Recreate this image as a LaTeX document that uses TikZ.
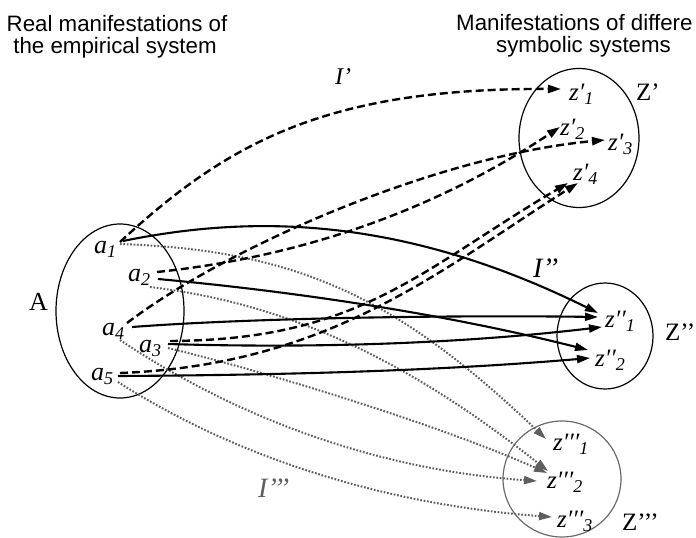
\documentclass[tikz,border=0pt]{standalone}
\usepackage{fontspec}
\setmainfont{Liberation Serif}
\newfontfamily\sansf{Liberation Sans}
\usetikzlibrary{arrows.meta,shapes.geometric}
\definecolor{dotgray}{HTML}{5E5E5E}
\definecolor{ellgray}{HTML}{6A6A6A}
\newcommand\lbl[3]{{\itshape #1#2\raisebox{-4pt}{\fontsize{18}{18}\selectfont #3}}}
\begin{document}
\begin{tikzpicture}[x=1pt,y=-1pt,
 tipA/.style={-{Triangle[length=13pt,width=8pt]}},
 iprime/.style={line width=2.4pt, dash pattern=on 8pt off 4pt, tipA},
 idouble/.style={line width=2.1pt, tipA},
 itriple/.style={line width=2pt, draw=dotgray, fill=none, dash pattern=on 1.7pt off 1.7pt, -{Triangle[length=13pt,width=8pt,fill=dotgray,color=dotgray]}},
 setell/.style={draw, ellipse, line width=1.2pt, inner sep=0pt},
 lab/.style={anchor=base west, inner sep=0pt, font=\fontsize{26}{26}\selectfont},
 zlab/.style={anchor=base west, inner sep=0pt, font=\fontsize{25}{25}\selectfont},
 setlab/.style={anchor=base west, inner sep=0pt, font=\fontsize{25}{25}\selectfont},
 ilab/.style={anchor=base west, inner sep=0pt, font=\itshape\fontsize{28}{28}\selectfont},
 title/.style={anchor=base, inner sep=0pt, font=\sansf\fontsize{22.3}{22.3}\selectfont},
]
\useasboundingbox (0,0) rectangle (696,538);
\begin{scope}
\clip (0,0) rectangle (696,538);
% titles
\node[title] (t1a) at (117,31.5) {Real manifestations of};
\node[title] (t1b) at (115,53.5) {the empirical system};
\node[title, anchor=base west] (t2a) at (456,30) {Manifestations of differe};
\node[title] (t2b) at (583.5,52) {symbolic systems};
% sets
\node[setell, minimum width=128pt, minimum height=174pt] (A) at (120,311) {};
\node[setell, minimum width=120pt, minimum height=139pt] (Zp) at (579,138) {};
\node[setell, minimum width=96pt, minimum height=106pt] (Zpp) at (605,336) {};
\node[setell, draw=ellgray, minimum width=118pt, minimum height=116pt] (Zppp) at (562,479) {};
% element labels
\node[lab] (la1) at (94,253) {\lbl{a}{}{1}};
\node[lab] (la2) at (128,281) {\lbl{a}{}{2}};
\node[lab] (la4) at (102,335) {\lbl{a}{}{4}};
\node[lab] (la3) at (139,352) {\lbl{a}{}{3}};
\node[lab] (la5) at (91,380) {\lbl{a}{}{5}};
\node[zlab] (zp1) at (569,100) {\lbl{z}{′}{1}};
\node[zlab] (zp2) at (560,135) {\lbl{z}{′}{2}};
\node[zlab] (zp3) at (608,150) {\lbl{z}{′}{3}};
\node[zlab] (zp4) at (573,180) {\lbl{z}{′}{4}};
\node[zlab] (zpp1) at (605,327) {\lbl{z}{′′}{1}};
\node[zlab] (zpp2) at (595,366) {\lbl{z}{′′}{2}};
\node[zlab] (zppp1) at (553,450) {\lbl{z}{′′′}{1}};
\node[zlab] (zppp2) at (547,488) {\lbl{z}{′′′}{2}};
\node[zlab] (zppp3) at (557,527) {\lbl{z}{′′′}{3}};
% set labels
\node[lab] (lA) at (29,310) {A};
\node[setlab] (lZp) at (636,100) {Z’};
\node[setlab] (lZpp) at (665,340) {Z’’};
\node[setlab] (lZppp) at (622,530) {Z’’’};
% mapping labels
\node[ilab, font=\itshape\fontsize{24}{24}\selectfont] (I1) at (335,84) {I’};
\node[ilab] (I2) at (533,277) {I’’};
\node[ilab, text=dotgray] (I3) at (258,497) {I’’’};
% start points
\coordinate (a1d) at (120,242); \coordinate (a1s) at (123,241); \coordinate (a1t) at (120,244);
\coordinate (a2d) at (157,272); \coordinate (a2s) at (158,279); \coordinate (a2t) at (150,287);
\coordinate (a4d) at (127,323); \coordinate (a4s) at (132,327); \coordinate (a4t) at (120,340);
\coordinate (a3d) at (170,341); \coordinate (a3s) at (168,344); \coordinate (a3t) at (168,348);
\coordinate (a5d) at (120,373); \coordinate (a5s) at (118,376); \coordinate (a5t) at (118,382);
% end points
\coordinate (e1) at (561,89); \coordinate (e2) at (560,127); \coordinate (e3) at (605,140);
\coordinate (e4a) at (568,183); \coordinate (e4b) at (578,183);
\coordinate (f1a) at (598,313); \coordinate (f1b) at (598,317); \coordinate (f1c) at (602,327);
\coordinate (f2a) at (588,350); \coordinate (f2b) at (590,358);
\coordinate (g1) at (546,439); \coordinate (g2a) at (548,471); \coordinate (g2b) at (547,473);
\coordinate (g2c) at (537,481); \coordinate (g3) at (552,517);
% I''' dotted
\draw[itriple] (a1t) .. controls (300,250) and (400,300) .. (g1);
\draw[itriple] (a2t) .. controls (300,305) and (420,370) .. (g2a);
\draw[itriple] (a3t) .. controls (260,370) and (440,425) .. (g2b);
\draw[itriple] (a4t) .. controls (240,420) and (380,470) .. (g2c);
\draw[itriple] (a5t) .. controls (240,460) and (390,505) .. (g3);
% I'' solid
\draw[idouble] (a1s) .. controls (250,215) and (400,215) .. (f1a);
\draw[idouble] (a2s) .. controls (300,292) and (450,315) .. (f2a);
\draw[idouble] (a4s) .. controls (250,318) and (450,315) .. (f1b);
\draw[idouble] (a3s) .. controls (300,348) and (450,345) .. (f1c);
\draw[idouble] (a5s) .. controls (300,375) and (450,370) .. (f2b);
% I' dashed
\draw[iprime] (a1d) .. controls (230,140) and (330,88) .. (e1);
\draw[iprime] (a2d) .. controls (320,255) and (450,200) .. (e2);
\draw[iprime] (a4d) .. controls (230,245) and (440,155) .. (e3);
\draw[iprime] (a3d) .. controls (360,340) and (420,270) .. (e4a);
\draw[iprime] (a5d) .. controls (330,365) and (440,270) .. (e4b);
\end{scope}
\end{tikzpicture}
\end{document}
